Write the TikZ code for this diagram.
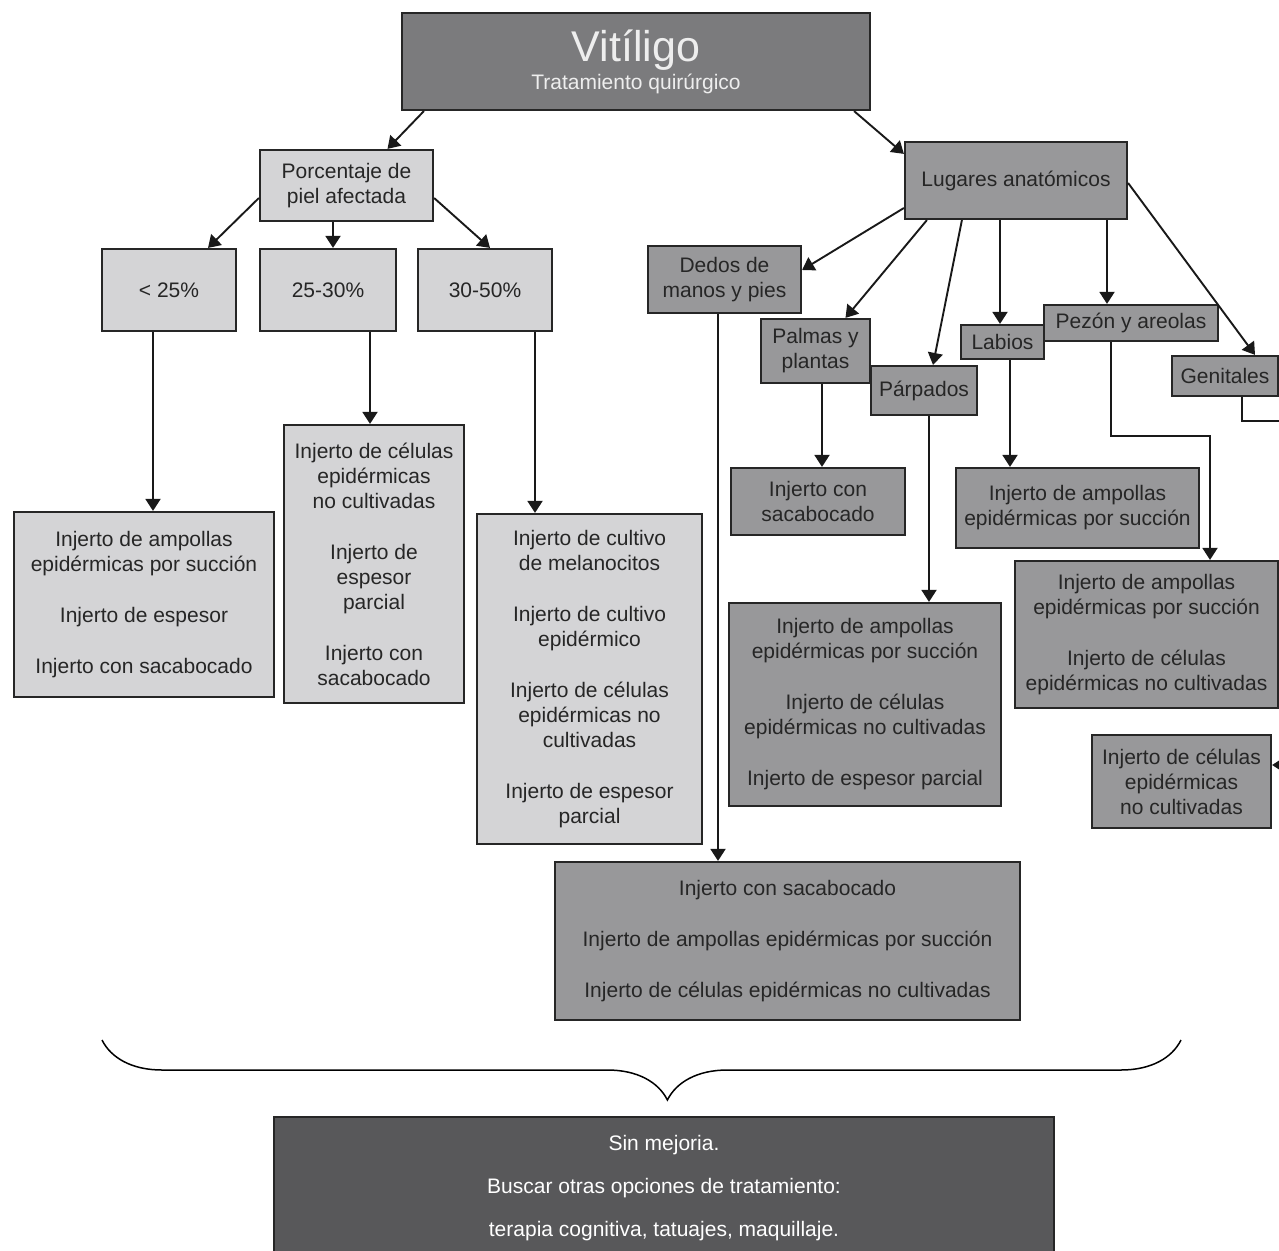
\documentclass[tikz,border=0pt]{standalone}
\usepackage{fontspec}
\setmainfont{Liberation Sans}
\usepackage{tikz}
\usetikzlibrary{positioning}
\usetikzlibrary{calc,arrows.meta}
\usetikzlibrary{decorations.pathreplacing}
\definecolor{vt-text}{HTML}{262626}
\definecolor{vt-head}{HTML}{7B7B7D}
\definecolor{vt-light}{HTML}{D4D4D6}
\definecolor{vt-mid}{HTML}{98989A}
\definecolor{vt-dark}{HTML}{58585A}
\definecolor{vt-white}{HTML}{EEEEEE}
\newcommand{\blankline}{\\[26pt]}

\begin{document}
\begin{tikzpicture}[
    x=1pt, y=-1pt, % one unit = one pixel of the sketch
    auto,
    font=\fontsize{21}{25}\selectfont,
    >={Triangle[width=15pt,length=12pt]}
  ]

  \tikzset{
    box/.style={draw=black!85, line width=2.2pt, inner sep=0pt, align=center, text=vt-text},
    headbox/.style={box, fill=vt-head, text=vt-white},
    lightbox/.style={box, fill=vt-light},
    midbox/.style={box, fill=vt-mid},
    darkbox/.style={box, fill=vt-dark, text=white},
    arr/.style={->, line width=1.9pt, black!90}
  }

  \useasboundingbox (0,0) rectangle (1279,1250);

  % Title
  \node (title) [headbox, minimum width=468pt, minimum height=97pt] at (636,61.5)
    {{\fontsize{43}{46}\selectfont Vitíligo}\\[3pt] Tratamiento quirúrgico};

  % Left branch: percentage of skin
  \node (pct)   [lightbox, minimum width=173pt, minimum height=71pt] at (346.5,185.5) {Porcentaje de\\piel afectada};
  \node (lt25)  [lightbox, minimum width=134pt, minimum height=82pt] at (169,290) {< 25\%};
  \node (p2530) [lightbox, minimum width=136pt, minimum height=82pt] at (328,290) {25-30\%};
  \node (p3050) [lightbox, minimum width=134pt, minimum height=82pt] at (485,290) {30-50\%};

  \node (tx1) [lightbox, minimum width=260pt, minimum height=185pt] at (144,604.5)
    {Injerto de ampollas\\epidérmicas por succión\blankline Injerto de espesor\blankline Injerto con sacabocado};
  \node (tx2) [lightbox, minimum width=180pt, minimum height=278pt] at (374,564)
    {Injerto de células\\epidérmicas\\no cultivadas\blankline Injerto de\\espesor\\parcial\blankline Injerto con\\sacabocado};
  \node (tx3) [lightbox, minimum width=225pt, minimum height=330pt] at (589.5,679)
    {Injerto de cultivo\\de melanocitos\blankline Injerto de cultivo\\epidérmico\blankline Injerto de células\\epidérmicas no\\cultivadas\blankline Injerto de espesor\\parcial};

  % Right branch: anatomical sites
  \node (lug)    [midbox, minimum width=222pt, minimum height=77pt] at (1016,180.5) {Lugares anatómicos};
  \node (dedos)  [midbox, minimum width=153pt, minimum height=67pt] at (724.5,279.5) {Dedos de\\manos y pies};
  \node (palmas) [midbox, minimum width=109pt, minimum height=64pt] at (815.5,351) {Palmas y\\plantas};
  \node (parp)   [midbox, minimum width=106pt, minimum height=49pt] at (924,390.5) {Párpados};
  \node (labios) [midbox, minimum width=83pt, minimum height=34pt] at (1002.5,342) {Labios};
  \node (pezon)  [midbox, minimum width=174pt, minimum height=36pt] at (1131,323) {Pezón y areolas};
  \node (genit)  [midbox, minimum width=106pt, minimum height=40pt] at (1225,376) {Genitales};

  \node (txpal)  [midbox, minimum width=174pt, minimum height=67pt] at (818,501.5) {Injerto con\\sacabocado};
  \node (txparp) [midbox, minimum width=272pt, minimum height=203pt] at (865,704.5)
    {Injerto de ampollas\\epidérmicas por succión\blankline Injerto de células\\epidérmicas no cultivadas\blankline Injerto de espesor parcial};
  \node (txlab)  [midbox, minimum width=243pt, minimum height=80pt] at (1077.5,508) {Injerto de ampollas\\epidérmicas por succión};
  \node (txpez)  [midbox, minimum width=263pt, minimum height=147pt] at (1146.5,634.5)
    {Injerto de ampollas\\epidérmicas por succión\blankline Injerto de células\\epidérmicas no cultivadas};
  \node (txgen)  [midbox, minimum width=179pt, minimum height=93pt] at (1181.5,781.5) {Injerto de células\\epidérmicas\\no cultivadas};
  \node (txded)  [midbox, minimum width=465pt, minimum height=158pt] at (787.5,941)
    {Injerto con sacabocado\blankline Injerto de ampollas epidérmicas por succión\blankline Injerto de células epidérmicas no cultivadas};

  % Outcome
  \node (final) [darkbox, minimum width=780pt, minimum height=143pt] at (664,1188.5)
    {Sin mejoria.\\[18pt] Buscar otras opciones de tratamiento:\\[18pt] terapia cognitiva, tatuajes, maquillaje.};

  % Connections from the title
  \draw[arr] ([xshift=23pt]title.south west) -- ([xshift=41pt]pct.north);
  \draw[arr] ([xshift=-17pt]title.south east) -- ([yshift=-13pt]lug.north west);

  % Percentage connections
  \draw[arr] ([yshift=-12.5pt]pct.west) -- ([xshift=39pt]lt25.north);
  \draw[arr] ([xshift=-13.5pt]pct.south) -- ([xshift=5pt]p2530.north);
  \draw[arr] ([yshift=-12.5pt]pct.east) -- ([xshift=5pt]p3050.north);
  \draw[arr] ([xshift=-16pt]lt25.south) -- ([xshift=-16pt]lt25.south |- tx1.north);
  \draw[arr] ([xshift=42pt]p2530.south) -- ([xshift=42pt]p2530.south |- tx2.north);
  \draw[arr] ([xshift=50pt]p3050.south) -- ([xshift=50pt]p3050.south |- tx3.north);

  % Anatomical connections
  \draw[arr] ([yshift=-27.5pt]lug.west) -- ([yshift=9.5pt]dedos.east);
  \draw[arr] ([xshift=23pt]lug.south west) -- ([xshift=30pt]palmas.north);
  \draw[arr] ([xshift=58pt]lug.south west) -- ([xshift=9pt]parp.north);
  \draw[arr] ([xshift=-16pt]lug.south) -- ([xshift=-16pt]lug.south |- labios.north);
  \draw[arr] ([xshift=91pt]lug.south) -- ([xshift=91pt]lug.south |- pezon.north);
  \draw[arr] ([yshift=-2.5pt]lug.east) -- ([xshift=30pt]genit.north);

  \draw[arr] ([xshift=6.5pt]palmas.south) -- ([xshift=6.5pt]palmas.south |- txpal.north);
  \draw[arr] ([xshift=5pt]parp.south) -- ([xshift=5pt]parp.south |- txparp.north);
  \draw[arr] ([xshift=7.5pt]labios.south) -- ([xshift=7.5pt]labios.south |- txlab.north);
  \draw[arr] ([xshift=-20pt]pezon.south) -- ++(0,94) -| ([xshift=63.5pt]txpez.north);
  \coordinate (offpage) at (1300,421);
  \draw[arr] ([xshift=17pt]genit.south) |- (offpage) |- ([yshift=16.5pt]txgen.east);
  \draw[arr] ([xshift=-6.5pt]dedos.south) -- ([xshift=-6.5pt]dedos.south |- txded.north);

  % Brace above the outcome
  \coordinate (bl) at (102,1040);
  \coordinate (br) at (1181,1040);
  \draw[decorate, decoration={brace, mirror, amplitude=60pt, aspect=0.524}, line width=1.5pt] (bl) -- (br);

\end{tikzpicture}
\end{document}
